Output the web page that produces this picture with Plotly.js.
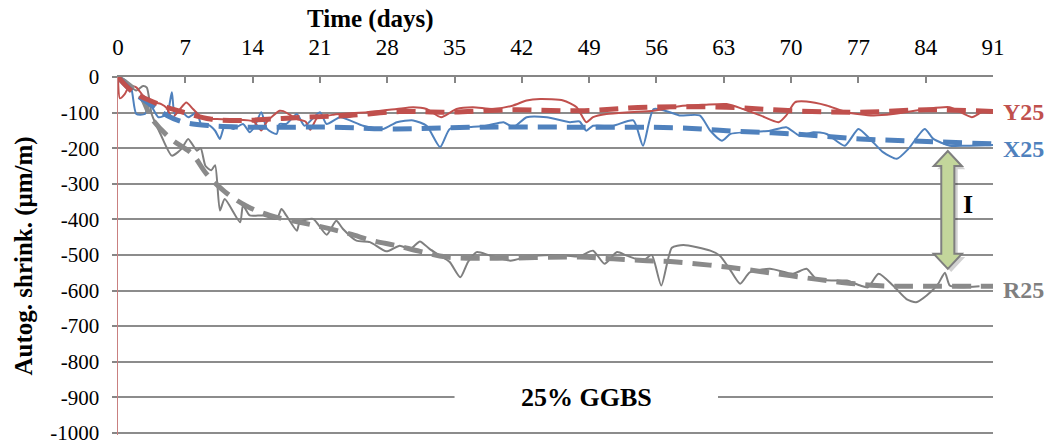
<!DOCTYPE html>
<html>
<head>
<meta charset="utf-8">
<script src="https://cdn.plot.ly/plotly-3.0.1.min.js"></script>
<style>html,body{margin:0;padding:0;background:#fff;}#chart{width:1047px;height:445px;}</style>
</head>
<body>
<div id="chart"></div>
<script>
// ---- data (days, µm/m) ----
var xTicks = [0, 7, 14, 21, 28, 35, 42, 49, 56, 63, 70, 77, 84, 91];
var yTicks = [0, -100, -200, -300, -400, -500, -600, -700, -800, -900, -1000];

var r25Days = [0,1.0,1.9,2.6,3.0,3.5,4.5,5.6,6.6,7.3,8.2,8.6,9.1,9.7,10.1,10.6,11.1,12.7,13.0,13.7,15.1,16.5,17.0,17.5,18.6,18.9,20.3,21.7,22.7,23.4,24.8,26.2,27.9,29.3,30.4,31.4,32.4,33.5,34.5,35.6,36.4,37.3,38.7,40.8,42.8,44.9,46.7,48.0,49.4,50.6,51.9,52.9,54.6,55.5,56.5,57.6,58.8,61.6,62.6,63.6,64.7,65.7,67.8,70.2,71.6,72.6,74.4,75.8,77.2,78.0,79.1,80.6,82.0,83.0,84.1,85.3,86.0,86.5,87.6,89.6];
var r25Vals = [0,-20,-38,-25,-30,-104,-165,-221,-202,-174,-207,-200,-250,-262,-248,-375,-343,-408,-361,-389,-389,-399,-371,-389,-432,-408,-399,-443,-404,-427,-460,-464,-490,-474,-483,-462,-483,-502,-520,-563,-520,-492,-502,-516,-504,-500,-502,-504,-488,-525,-492,-502,-516,-500,-586,-480,-472,-488,-502,-539,-581,-549,-539,-553,-539,-567,-572,-572,-586,-591,-553,-586,-624,-633,-614,-581,-550,-586,-591,-588];

var r25TrendDays = [0,1.5,2.5,3.5,5.5,7.7,9.2,11.1,13.4,15.8,18.9,21.3,24.1,26.5,29.0,31.4,34.2,39.4,48.0,51.5,55.0,58.1,63.3,68.5,73.7,78.9,84.1,91];
var r25TrendVals = [0,-30,-60,-116,-174,-216,-272,-322,-363,-389,-408,-422,-441,-460,-474,-490,-506,-509,-506,-511,-516,-520,-534,-553,-572,-586,-588,-588];

var x25Days = [0,0.8,1.4,1.9,2.8,3.3,4.2,5.1,5.6,5.9,6.5,7.3,8.2,8.7,9.4,10.1,10.6,11.1,12.0,13.0,13.7,14.2,14.9,15.5,16.5,16.8,17.5,18.6,19.4,21.0,21.7,23.1,25.5,27.6,29.0,30.7,32.1,33.5,34.5,36.3,38.3,40.1,41.1,42.5,44.6,47.0,48.0,48.7,49.4,51.5,53.6,54.6,55.7,57.4,58.4,60.5,61.6,62.8,63.7,65.4,67.8,69.5,70.9,72.3,73.7,75.6,77.0,78.2,79.6,81.0,82.2,83.9,84.8,86.5,88.2,91];
var x25Vals = [0,-10,-34,-104,-104,-76,-113,-104,-43,-104,-95,-113,-100,-137,-135,-151,-174,-137,-146,-132,-155,-140,-99,-146,-160,-132,-132,-104,-137,-99,-132,-113,-137,-146,-127,-122,-137,-197,-146,-141,-137,-127,-141,-113,-113,-127,-125,-151,-137,-137,-122,-193,-90,-99,-108,-108,-151,-179,-160,-155,-151,-141,-165,-155,-160,-193,-146,-174,-212,-230,-202,-146,-174,-193,-193,-191];

var x25TrendDays = [0,1.6,3.3,5.1,6.8,9.6,13.7,22.4,28.6,37.6,48.0,58.4,63.3,70.2,77.2,84.1,91];
var x25TrendVals = [0,-43,-76,-108,-127,-137,-141,-141,-146,-141,-141,-143,-151,-160,-174,-181,-188];

var y25Days = [0,0.2,0.7,1.2,1.9,2.6,3.5,4.5,5.1,5.6,6.4,7.1,7.8,8.8,10.3,12.0,14.1,14.9,15.5,16.8,17.2,18.6,19.5,20.0,20.7,22.4,25.9,29.0,30.7,32.1,33.6,35.2,36.9,39.0,41.1,42.5,43.9,46.3,47.7,48.7,49.4,50.8,53.2,55.7,58.4,61.0,63.3,65.0,66.8,68.7,69.5,70.4,71.6,73.7,75.8,78.5,80.6,84.1,86.5,88.8,89.8,91];
var y25Vals = [0,-60,-48,-25,-29,-52,-70,-76,-88,-115,-92,-72,-90,-116,-118,-120,-125,-150,-125,-95,-96,-118,-125,-148,-116,-106,-99,-90,-85,-90,-113,-90,-85,-90,-80,-66,-62,-66,-85,-127,-113,-104,-99,-95,-82,-78,-76,-90,-108,-127,-108,-71,-69,-80,-99,-108,-104,-90,-85,-113,-99,-95];

var y25TrendDays = [0,1.6,3.3,5.1,6.8,9.6,12.7,16.1,19.6,24.1,29.3,34.2,41.1,48.0,55.0,63.3,70.2,77.2,84.1,91];
var y25TrendVals = [0,-43,-66,-85,-99,-118,-122,-118,-113,-108,-97,-99,-92,-95,-85,-85,-95,-99,-92,-97];

var seriesNames = ['Y25', 'X25', 'R25'];

// ---- styles ----
var RED = '#c0504d', BLUE = '#4f81bd', GRAY = '#7f7f7f';
var FONT = '"Liberation Serif", "Times New Roman", serif';

function solid(x, y, c, name) {
  return {x: x, y: y, mode: 'lines', name: name, line: {color: c, width: 2, shape: 'spline', smoothing: 0.6}, hoverinfo: 'skip'};
}
function trend(x, y, c, name) {
  return {x: x, y: y, mode: 'lines', name: name, line: {color: c, width: 5, dash: '19px,10px', shape: 'spline', smoothing: 1}, hoverinfo: 'skip'};
}

var data = [
  solid(r25Days, r25Vals, GRAY, 'R25'),
  solid(x25Days, x25Vals, BLUE, 'X25'),
  solid(y25Days, y25Vals, RED, 'Y25'),
  trend(r25TrendDays, r25TrendVals, '#8a8a8a', 'R25 trend'),
  trend(x25TrendDays, x25TrendVals, BLUE, 'X25 trend'),
  trend(y25TrendDays, y25TrendVals, RED, 'Y25 trend')
];

// double arrow (gap indicator) geometry in data units
var ax = 86.3, aTop = -208, aBot = -539, hh = 42, sw = 0.68, hw = 1.46;
function arrowPath(dx, dy) {
  var p = [[ax, aTop], [ax + hw, aTop - hh], [ax + sw, aTop - hh], [ax + sw, aBot + hh], [ax + hw, aBot + hh], [ax, aBot],
           [ax - hw, aBot + hh], [ax - sw, aBot + hh], [ax - sw, aTop - hh], [ax - hw, aTop - hh]];
  return 'M' + p.map(function (q) { return (q[0] + dx) + ',' + (q[1] + dy); }).join(' L') + ' Z';
}

var layout = {
  width: 1047, height: 445,
  margin: {l: 118, r: 54, t: 77, b: 10, pad: 0},
  paper_bgcolor: '#fff', plot_bgcolor: '#fff',
  showlegend: false,
  font: {family: FONT, size: 23, color: '#000'},
  xaxis: {
    side: 'top', range: [0, 91], tickvals: xTicks, ticktext: xTicks.map(String),
    showgrid: false, zeroline: false,
    showline: true, linecolor: '#868686', linewidth: 2,
    ticks: 'inside', ticklen: 6, tickcolor: '#868686', tickwidth: 2,
    ticklabelstandoff: 11,
    tickfont: {family: FONT, size: 23, color: '#000'}
  },
  yaxis: {
    range: [-1006, 0], tickvals: yTicks, ticktext: yTicks.map(String),
    showgrid: true, gridcolor: '#8c8c8c', gridwidth: 2,
    zeroline: false,
    showline: true, linecolor: '#c98080', linewidth: 1.5,
    ticks: 'outside', ticklen: 5, tickcolor: '#868686', tickwidth: 2,
    ticklabelstandoff: 8, ticklabeloverflow: 'allow',
    tickfont: {family: FONT, size: 21, color: '#000'}
  },
  shapes: [
    {type: 'rect', xref: 'x', yref: 'y', x0: 35.0, x1: 62.4, y0: -930, y1: -870, fillcolor: '#fff', line: {width: 0}, layer: 'between'},
    {type: 'path', xref: 'x', yref: 'y', path: arrowPath(0.35, -9), fillcolor: 'rgba(0,0,0,0.18)', line: {width: 0}, layer: 'above'},
    {type: 'path', xref: 'x', yref: 'y', path: arrowPath(0, 0), fillcolor: '#c3d69b', line: {color: '#7f7f7f', width: 2}, layer: 'above'}
  ],
  annotations: [
    {text: '<b>Time (days)</b>', xref: 'paper', yref: 'paper', x: 0.288, y: 1.163, xanchor: 'center', yanchor: 'middle', showarrow: false, font: {family: FONT, size: 25, color: '#000'}},
    {text: '<b>Autog. shrink. (μm/m)</b>', xref: 'paper', yref: 'paper', x: -0.108, y: 0.5, xanchor: 'center', yanchor: 'middle', textangle: -90, showarrow: false, font: {family: FONT, size: 25, color: '#000'}},
    {text: '<b>25% GGBS</b>', xref: 'x', yref: 'y', x: 48.7, y: -900, xanchor: 'center', yanchor: 'middle', showarrow: false, font: {family: FONT, size: 26, color: '#000'}},
    {text: '<b>I</b>', xref: 'x', yref: 'y', x: 88.4, y: -357, xanchor: 'center', yanchor: 'middle', showarrow: false, font: {family: FONT, size: 26, color: '#000'}},
    {text: '<b>' + seriesNames[0] + '</b>', xref: 'x', yref: 'y', x: 91, y: -98, xanchor: 'left', yanchor: 'middle', xshift: 8, showarrow: false, font: {family: FONT, size: 24, color: RED}},
    {text: '<b>' + seriesNames[1] + '</b>', xref: 'x', yref: 'y', x: 91, y: -202, xanchor: 'left', yanchor: 'middle', xshift: 8, showarrow: false, font: {family: FONT, size: 24, color: BLUE}},
    {text: '<b>' + seriesNames[2] + '</b>', xref: 'x', yref: 'y', x: 91, y: -598, xanchor: 'left', yanchor: 'middle', xshift: 8, showarrow: false, font: {family: FONT, size: 24, color: GRAY}}
  ]
};

Plotly.newPlot('chart', data, layout, {displayModeBar: false, staticPlot: true});
</script>
</body>
</html>
